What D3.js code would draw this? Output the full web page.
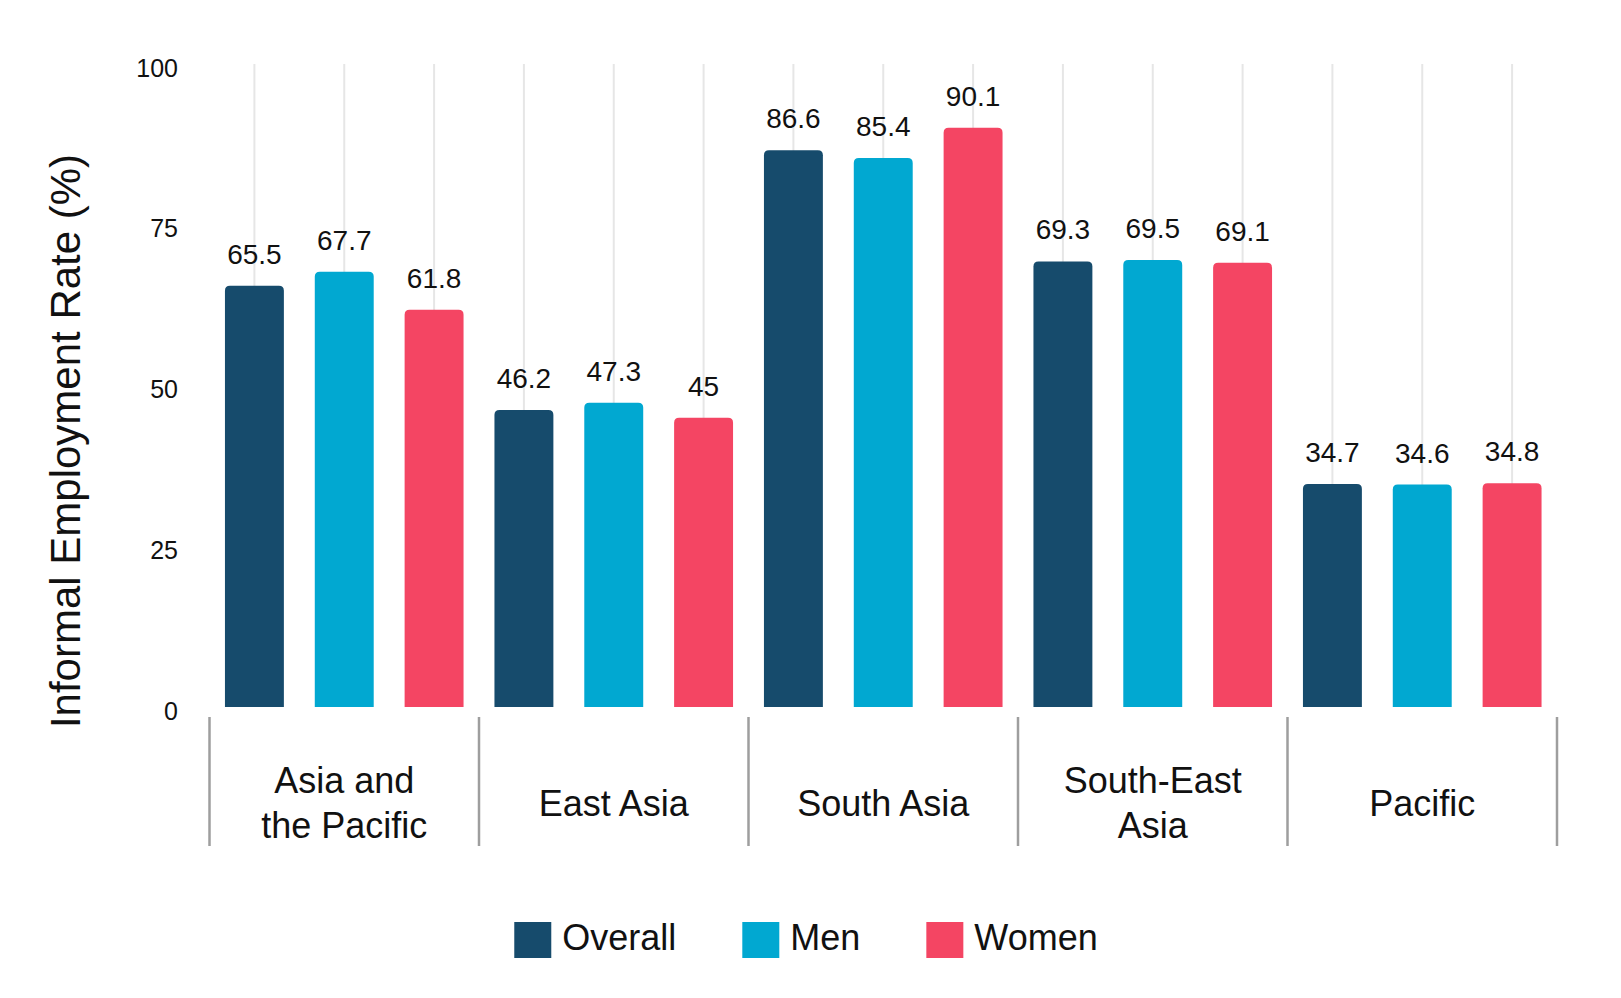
<!DOCTYPE html>
<html>
<head>
<meta charset="utf-8">
<script src="https://cdn.jsdelivr.net/npm/d3@7"></script>
<style>
  body { margin: 0; background: #fff; }
  text { font-family: "Liberation Sans", Arial, sans-serif; fill: #111; }
</style>
</head>
<body>
<div id="chart"></div>
<script>
const WIDTH = 1621;
const HEIGHT = 998;

// data
const regions = ["Asia and the Pacific", "East Asia", "South Asia", "South-East Asia", "Pacific"];
const regionLabels = [["Asia and", "the Pacific"], ["East Asia"], ["South Asia"], ["South-East", "Asia"], ["Pacific"]];
const series = ["Overall", "Men", "Women"];
const overall = [65.5, 46.2, 86.6, 69.3, 34.7];
const men = [67.7, 47.3, 85.4, 69.5, 34.6];
const women = [61.8, 45, 90.1, 69.1, 34.8];
const yTicks = [0, 25, 50, 75, 100];

const COLORS = { Overall: "#164b6c", Men: "#01a8d1", Women: "#f44563" };

const rows = [];
regions.forEach((r, i) => {
    rows.push({ region: r, series: "Overall", value: overall[i] });
    rows.push({ region: r, series: "Men", value: men[i] });
    rows.push({ region: r, series: "Women", value: women[i] });
});

const svg = d3.select("#chart")
    .append("svg")
    .attr("width", WIDTH)
    .attr("height", HEIGHT);

// scales
const y = d3.scaleLinear().domain([0, 100]).range([707, 64]);

const x0 = d3.scaleBand()
    .domain(regions)
    .range([209.5, 1557])
    .padding(0);

const x1 = d3.scaleBand()
    .domain(series)
    .range([0, x0.bandwidth()])
    .paddingInner(0.344)
    .paddingOuter(0.172);

const barX = d => x0(d.region) + x1(d.series);
const bw = x1.bandwidth();

// gridlines behind bars
svg.append("g")
    .selectAll("line")
    .data(rows)
    .join("line")
    .attr("x1", d => barX(d) + bw / 2)
    .attr("x2", d => barX(d) + bw / 2)
    .attr("y1", y(100))
    .attr("y2", y(0))
    .attr("stroke", "#e6e6e6")
    .attr("stroke-width", 2);

// y axis
const yAxis = svg.append("g")
    .attr("transform", "translate(178,0)")
    .call(d3.axisLeft(y).tickValues(yTicks).tickSize(0).tickPadding(0));
yAxis.select(".domain").remove();
yAxis.selectAll("text")
    .attr("dy", "0.48em")
    .style("font-size", "25px")
    .style("font-family", "'Liberation Sans', Arial, sans-serif")
    .attr("fill", "#111");

// bars, rounded top corners
const R = 5;
function barPath(d) {
    const x = barX(d), top = y(d.value), base = y(0), w = bw;
    return `M${x},${base}V${top + R}Q${x},${top} ${x + R},${top}H${x + w - R}Q${x + w},${top} ${x + w},${top + R}V${base}Z`;
}

svg.append("g")
    .selectAll("path")
    .data(rows)
    .join("path")
    .attr("class", "bar")
    .attr("d", barPath)
    .attr("fill", d => COLORS[d.series]);

// value labels
svg.append("g")
    .selectAll("text")
    .data(rows)
    .join("text")
    .attr("x", d => barX(d) + bw / 2)
    .attr("y", d => y(d.value) - 22)
    .attr("text-anchor", "middle")
    .style("font-size", "28px")
    .text(d => d.value);

// group separators
const edges = regions.map(r => x0(r)).concat([x0.range()[1]]);
svg.append("g")
    .selectAll("line")
    .data(edges)
    .join("line")
    .attr("x1", d => d)
    .attr("x2", d => d)
    .attr("y1", 717)
    .attr("y2", 846)
    .attr("stroke", "#9e9e9e")
    .attr("stroke-width", 2.5);

// category labels
const catG = svg.append("g")
    .selectAll("text")
    .data(regions)
    .join("text")
    .attr("x", d => x0(d) + x0.bandwidth() / 2)
    .attr("text-anchor", "middle")
    .style("font-size", "36px");

catG.each(function (d, i) {
    const lines = regionLabels[i];
    const start = 815.5 - (lines.length - 1) * 22.5;
    d3.select(this).selectAll("tspan")
        .data(lines)
        .join("tspan")
        .attr("x", x0(d) + x0.bandwidth() / 2)
        .attr("y", (l, j) => start + j * 45)
        .text(l => l);
});

// y axis title
svg.append("text")
    .attr("transform", "translate(80,441) rotate(-90)")
    .attr("text-anchor", "middle")
    .style("font-size", "42px")
    .text("Informal Employment Rate (%)");

// legend
const legend = svg.append("g");
const items = legend.selectAll("g")
    .data(series)
    .join("g");

items.append("rect")
    .attr("width", 37)
    .attr("height", 36)
    .attr("y", 922)
    .attr("fill", d => COLORS[d]);

items.append("text")
    .attr("x", 48)
    .attr("y", 950)
    .style("font-size", "36px")
    .text(d => d);

let cx = 0;
items.each(function () {
    const w = this.getBBox().width;
    d3.select(this).attr("transform", `translate(${cx},0)`);
    cx += w + 66;
});
const totalW = cx - 66;
legend.attr("transform", `translate(${806 - totalW / 2},0)`);
</script>
</body>
</html>
